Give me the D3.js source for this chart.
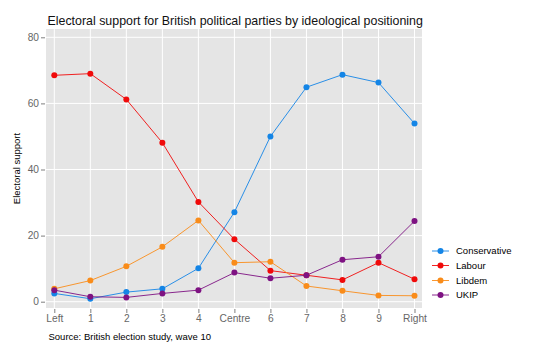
<!DOCTYPE html>
<html><head><meta charset="utf-8">
<script src="https://cdn.jsdelivr.net/npm/d3@7"></script>
<style>
html,body{margin:0;padding:0;background:#fff;}
svg{display:block;font-family:"Liberation Sans",Arial,Helvetica,sans-serif;}
</style></head>
<body>
<svg id="chart" width="535" height="356"></svg>
<script>
const categories = ["Left","1","2","3","4","Centre","6","7","8","9","Right"];
const seriesNames = ["Conservative","Labour","Libdem","UKIP"];
const conservative = [2.5, 0.9, 2.9, 3.9, 10.1, 27.1, 50.0, 64.9, 68.7, 66.3, 53.9];
const labour       = [68.5, 69.0, 61.2, 48.1, 30.2, 18.9, 9.4, 8.0, 6.6, 11.8, 6.8];
const libdem       = [3.9, 6.4, 10.7, 16.6, 24.6, 11.8, 12.1, 4.75, 3.3, 1.9, 1.8];
const ukip         = [3.5, 1.5, 1.3, 2.5, 3.5, 8.8, 7.1, 8.0, 12.7, 13.6, 24.4];
const yTicks = [0, 20, 40, 60, 80];
const colors = ["#1485E6", "#F00A0A", "#F98C1A", "#7E1282"];
const titleText = "Electoral support for British political parties by ideological positioning";
const yLabel = "Electoral support";
const sourceText = "Source: British election study, wave 10";

const seriesValues = [conservative, labour, libdem, ukip];

const svg = d3.select("#chart");
const panel = {left: 46, right: 422, top: 29, bottom: 308};

const x = d3.scalePoint().domain(categories).range([54.3, 414.5]);
const y = d3.scaleLinear().domain([0, 80]).range([301.7, 37.3]);

// panel background
svg.append("rect").attr("x", panel.left).attr("y", panel.top)
  .attr("width", panel.right - panel.left).attr("height", panel.bottom - panel.top)
  .attr("fill", "#E5E5E5");

// grid
const g = svg.append("g");
g.selectAll("line.hg").data(yTicks).enter().append("line")
  .attr("x1", panel.left).attr("x2", panel.right)
  .attr("y1", d => y(d)).attr("y2", d => y(d))
  .attr("stroke", "#fff").attr("stroke-width", 1);
g.selectAll("line.vg").data(categories).enter().append("line")
  .attr("y1", panel.top).attr("y2", panel.bottom)
  .attr("x1", d => x(d)).attr("x2", d => x(d))
  .attr("stroke", "#fff").attr("stroke-width", 1);

// axes
const xAxis = d3.axisBottom(x).tickSize(4).tickPadding(2);
const xa = svg.append("g").attr("transform", `translate(0,${panel.bottom + 1})`).call(xAxis);
xa.select(".domain").remove();
xa.selectAll(".tick line").attr("stroke", "#7f7f7f");
xa.selectAll(".tick text").attr("fill", "#666").attr("font-size", 10.2)
  .attr("font-family", "Liberation Sans, Arial, sans-serif");

const yAxis = d3.axisLeft(y).tickValues(yTicks).tickSize(4).tickPadding(2);
const ya = svg.append("g").attr("transform", `translate(${panel.left - 1},0)`).call(yAxis);
ya.select(".domain").remove();
ya.selectAll(".tick line").attr("stroke", "#7f7f7f");
ya.selectAll(".tick text").attr("fill", "#666").attr("font-size", 10.2)
  .attr("font-family", "Liberation Sans, Arial, sans-serif");

// lines & points
const line = d3.line().x((d, i) => x(categories[i])).y(d => y(d));
seriesValues.forEach((vals, si) => {
  svg.append("path").datum(vals).attr("d", line)
    .attr("fill", "none").attr("stroke", colors[si]).attr("stroke-width", 0.9);
});
seriesValues.forEach((vals, si) => {
  svg.append("g").selectAll("circle").data(vals).enter().append("circle")
    .attr("cx", (d, i) => x(categories[i])).attr("cy", d => y(d))
    .attr("r", 3).attr("fill", colors[si]);
});

// title
svg.append("text").attr("x", 47.5).attr("y", 25).attr("font-size", 12.4)
  .attr("fill", "#111").text(titleText);

// y label
svg.append("text").attr("transform", `translate(20,${(panel.top + panel.bottom) / 2}) rotate(-90)`)
  .attr("text-anchor", "middle").attr("font-size", 9.5).attr("fill", "#000").text(yLabel);

// source
svg.append("text").attr("x", 48.5).attr("y", 340).attr("font-size", 9.5)
  .attr("fill", "#000").text(sourceText);

// legend
const legY = [251, 265.5, 280.5, 295];
const leg = svg.append("g");
seriesNames.forEach((name, i) => {
  const gy = legY[i];
  leg.append("line").attr("x1", 432).attr("x2", 449).attr("y1", gy).attr("y2", gy)
    .attr("stroke", colors[i]).attr("stroke-width", 0.9);
  leg.append("circle").attr("cx", 440.5).attr("cy", gy).attr("r", 3).attr("fill", colors[i]);
  leg.append("text").attr("x", 456).attr("y", gy + 3.4).attr("font-size", 9.5)
    .attr("fill", "#000").text(name);
});
</script>
</body></html>
